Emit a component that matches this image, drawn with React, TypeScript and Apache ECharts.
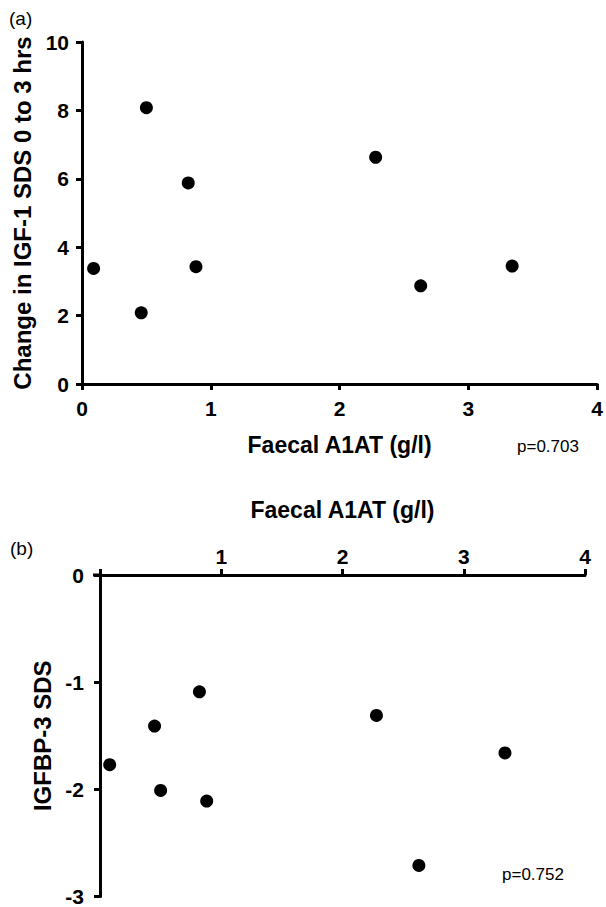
import React, { useEffect, useRef } from "react";
import * as echarts from "echarts";

// Panel (a): Faecal A1AT vs change in IGF-1 SDS 0 to 3 hrs
const a1atA: number[] = [0.09, 0.46, 0.885, 0.5, 0.825, 2.28, 2.63, 3.34];
const igf1Change: number[] = [3.38, 2.08, 3.43, 8.08, 5.88, 6.63, 2.87, 3.45];

// Panel (b): Faecal A1AT vs IGFBP-3 SDS
const a1atB: number[] = [0.08, 0.45, 0.82, 0.5, 0.88, 2.28, 3.34, 2.63];
const igfbp3: number[] = [-1.77, -1.41, -1.09, -2.01, -2.11, -1.31, -1.66, -2.71];

const xTicksA = [0, 1, 2, 3, 4];
const yTicksA = [0, 2, 4, 6, 8, 10];
const xTicksB = [0, 1, 2, 3, 4];
const yTicksB = [-3, -2, -1, 0];

const pA = "p=0.703";
const pB = "p=0.752";

const FONT = "Liberation Sans, Arial, Helvetica, sans-serif";

export default function App() {
  const ref = useRef<HTMLDivElement>(null);
  useEffect(() => {
    document.body.style.margin = "0";
    const chart = echarts.init(ref.current!, null, { renderer: "svg" });
    const axisLine = { show: true, onZero: false, lineStyle: { color: "#000", width: 3 } };
    const axisTick = { show: true, length: 6, lineStyle: { color: "#000", width: 3 } };
    const labelStyle = { color: "#000", fontWeight: "bold" as const, fontSize: 21, fontFamily: FONT };
    const xNameStyle = { color: "#000", fontWeight: "bold" as const, fontSize: 23, fontFamily: FONT };
    const yNameStyle = { color: "#000", fontWeight: "bold" as const, fontSize: 24, fontFamily: FONT };
    chart.setOption({
      animation: false,
      backgroundColor: "#fff",
      grid: [
        { left: 82, top: 42, width: 520, height: 342 },
        { left: 100, top: 575, width: 485, height: 322 },
      ],
      xAxis: [
        {
          gridIndex: 0,
          type: "value",
          min: xTicksA[0],
          max: xTicksA[xTicksA.length - 1],
          interval: 1,
          position: "bottom",
          axisLine,
          axisTick,
          splitLine: { show: false },
          axisLabel: { ...labelStyle, margin: 14 },
          name: "Faecal A1AT (g/l)",
          nameLocation: "middle",
          nameGap: 49,
          nameTextStyle: xNameStyle,
        },
        {
          gridIndex: 1,
          type: "value",
          min: xTicksB[0],
          max: xTicksB[xTicksB.length - 1],
          interval: 1,
          position: "top",
          axisLine,
          axisTick,
          splitLine: { show: false },
          axisLabel: {
            ...labelStyle,
            margin: 8,
            formatter: (v: number) => (v === 0 ? "" : String(v)),
          },
          name: "Faecal A1AT (g/l)",
          nameLocation: "middle",
          nameGap: 54,
          nameTextStyle: xNameStyle,
        },
      ],
      yAxis: [
        {
          gridIndex: 0,
          type: "value",
          min: yTicksA[0],
          max: yTicksA[yTicksA.length - 1],
          interval: 2,
          axisLine,
          axisTick,
          splitLine: { show: false },
          axisLabel: { ...labelStyle, margin: 13 },
          name: "Change in IGF-1 SDS 0 to 3 hrs",
          nameLocation: "middle",
          nameGap: 45,
          nameTextStyle: yNameStyle,
        },
        {
          gridIndex: 1,
          type: "value",
          min: yTicksB[0],
          max: yTicksB[yTicksB.length - 1],
          interval: 1,
          axisLine,
          axisTick,
          splitLine: { show: false },
          axisLabel: { ...labelStyle, margin: 16 },
          name: "IGFBP-3 SDS",
          nameLocation: "middle",
          nameGap: 43,
          nameTextStyle: yNameStyle,
        },
      ],
      series: [
        {
          type: "scatter",
          xAxisIndex: 0,
          yAxisIndex: 0,
          symbol: "circle",
          symbolSize: 13,
          itemStyle: { color: "#000", opacity: 1 },
          data: a1atA.map((x, i) => [x, igf1Change[i]]),
        },
        {
          type: "scatter",
          xAxisIndex: 1,
          yAxisIndex: 1,
          symbol: "circle",
          symbolSize: 13,
          itemStyle: { color: "#000", opacity: 1 },
          data: a1atB.map((x, i) => [x, igfbp3[i]]),
        },
      ],
      graphic: [
        { type: "text", left: 9, top: 9, style: { text: "(a)", fontSize: 19, fontFamily: FONT, fill: "#000" } },
        { type: "text", left: 10, top: 539, style: { text: "(b)", fontSize: 19, fontFamily: FONT, fill: "#000" } },
        { type: "text", left: 517, top: 438, style: { text: pA, fontSize: 17, fontFamily: FONT, fill: "#000" } },
        { type: "text", left: 502, top: 866, style: { text: pB, fontSize: 17, fontFamily: FONT, fill: "#000" } },
        { type: "line", shape: { x1: 93, y1: 575, x2: 100, y2: 575 }, style: { stroke: "#000", lineWidth: 3 } },
      ],
    });
    return () => chart.dispose();
  }, []);
  return <div ref={ref} style={{ position: "absolute", left: 0, top: 0, width: 606, height: 907 }} />;
}
